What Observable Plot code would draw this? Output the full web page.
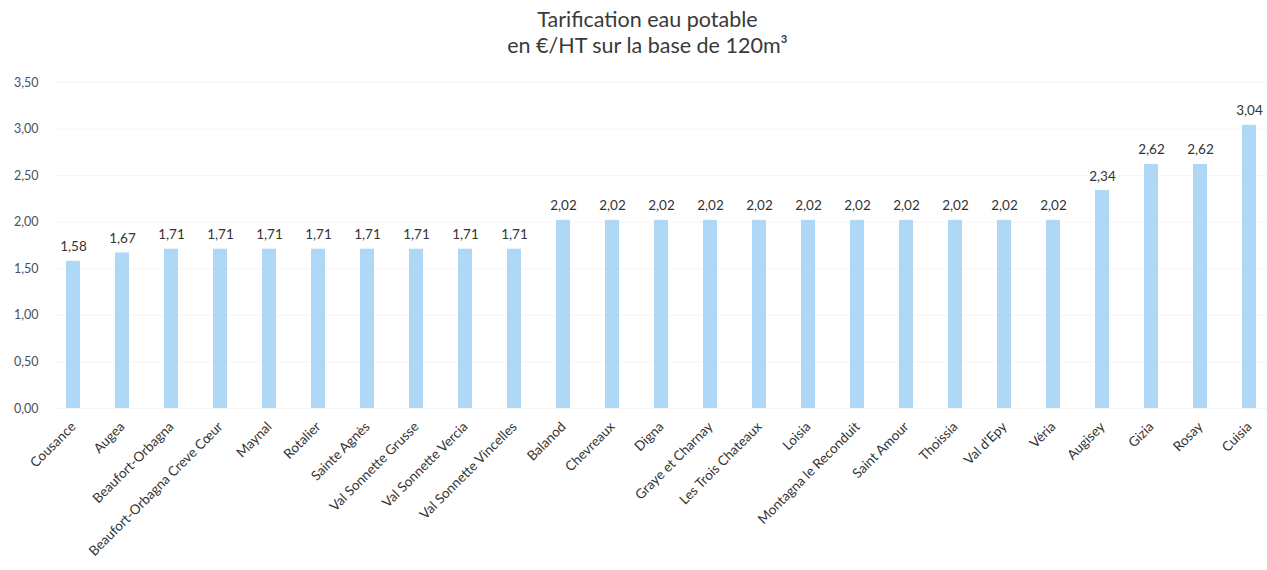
<!DOCTYPE html>
<html>
<head>
<meta charset="utf-8">
<script src="https://cdn.jsdelivr.net/npm/d3@7"></script>
<script src="https://cdn.jsdelivr.net/npm/@observablehq/plot@0.6"></script>
<style>
  body { margin: 0; background: #fff; font-family: Lato, "Open Sans", sans-serif; }
  #title { width: 1267px; box-sizing: border-box; padding-left: 28px; padding-top: 6px; height: 62px;
           text-align: center; font-size: 21.5px; line-height: 26px; color: #3a3a3a; }
</style>
</head>
<body>
<div id="title">Tarification eau potable<br>en €/HT sur la base de 120m³</div>
<div id="chart"></div>
<script>
const communes = ["Cousance", "Augea", "Beaufort-Orbagna", "Beaufort-Orbagna Creve Cœur", "Maynal", "Rotalier",
  "Sainte Agnès", "Val Sonnette Grusse", "Val Sonnette Vercia", "Val Sonnette Vincelles", "Balanod", "Chevreaux",
  "Digna", "Graye et Charnay", "Les Trois Chateaux", "Loisia", "Montagna le Reconduit", "Saint Amour", "Thoissia",
  "Val d'Epy", "Véria", "Augisey", "Gizia", "Rosay", "Cuisia"];
const tarifs = [1.58, 1.67, 1.71, 1.71, 1.71, 1.71, 1.71, 1.71, 1.71, 1.71, 2.02, 2.02, 2.02, 2.02, 2.02, 2.02,
  2.02, 2.02, 2.02, 2.02, 2.02, 2.34, 2.62, 2.62, 3.04];
const yTicks = [0, 0.5, 1, 1.5, 2, 2.5, 3, 3.5];

const data = communes.map((c, i) => ({commune: c, tarif: tarifs[i]}));
const fmt = d => d.toFixed(2).replace(".", ",");

const chart = Plot.plot({
  width: 1267,
  height: 508,
  marginTop: 20,
  marginBottom: 162,
  marginLeft: 56,
  marginRight: 0,
  style: {fontFamily: "Lato, 'Open Sans', sans-serif", color: "#404040"},
  x: {domain: communes, paddingInner: 0.71, paddingOuter: 0.2, label: null},
  y: {domain: [0, 3.5], ticks: yTicks, label: null},
  marks: [
    Plot.gridY(yTicks, {stroke: "#d9d9d9", strokeOpacity: 0.3}),
    Plot.barY(data, {x: "commune", y: "tarif", fill: "#aed8f5"}),
    Plot.text(data, {x: "commune", y: "tarif", text: d => fmt(d.tarif), dy: -10, lineAnchor: "bottom",
      fontSize: 13.5, fill: "#333"}),
    Plot.axisY(yTicks, {tickSize: 0, tickPadding: 18, tickFormat: fmt, fontSize: 12.5, fill: "#4a4f60"}),
    Plot.axisX({tickSize: 0, tickPadding: 16, tickRotate: -45, fontSize: 13.5, fill: "#333"})
  ]
});
document.getElementById("chart").appendChild(chart);
</script>
</body>
</html>
